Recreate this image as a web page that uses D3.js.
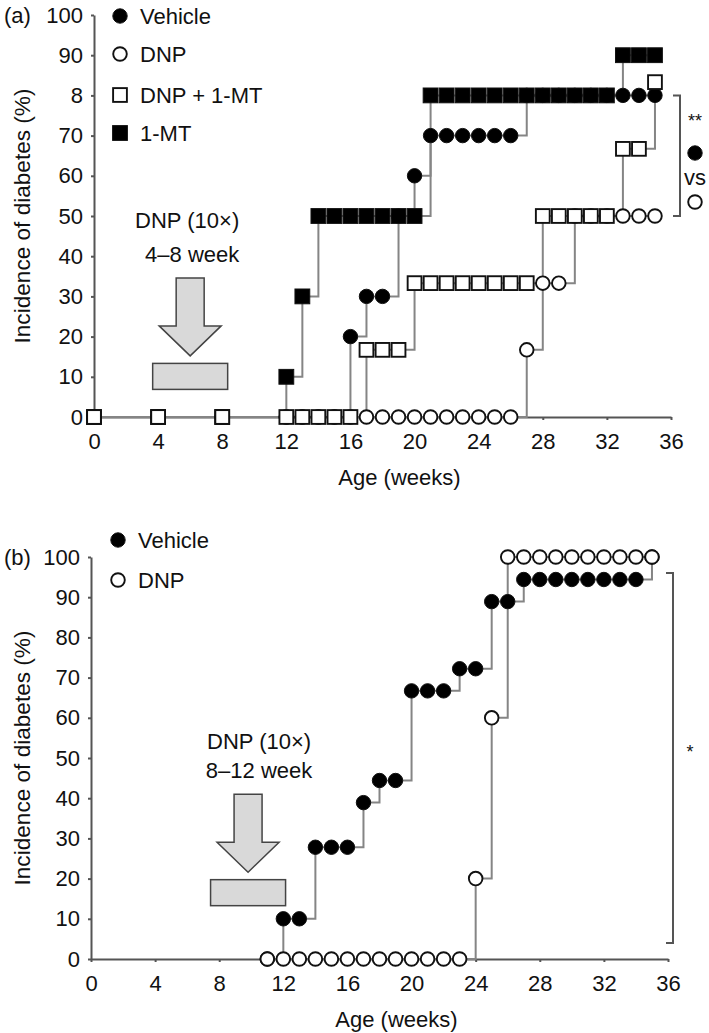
<!DOCTYPE html>
<html>
<head>
<meta charset="utf-8">
<script src="https://cdn.jsdelivr.net/npm/d3@7"></script>
<style>
  html, body { margin: 0; padding: 0; background: #fff; }
  svg { display: block; font-family: "Liberation Sans", Arial, sans-serif; }
</style>
</head>
<body>
<svg id="chart" width="709" height="1033"></svg>
<script>
// ---------------- DATA ----------------
// Panel (a)
const aVehicleWeeks = [0,4,8,12,13,14,15,16,17,18,19,20,21,22,23,24,25,26,27,28,29,30,31,32,33,34,35];
const aVehicleVals  = [0,0,0,0,0,0,0,20,30,30,50,60,70,70,70,70,70,70,80,80,80,80,80,80,80,80,80];
const aDnpWeeks     = [0,4,8,12,13,14,15,16,17,18,19,20,21,22,23,24,25,26,27,28,29,30,31,32,33,34,35];
const aDnpVals      = [0,0,0,0,0,0,0,0,0,0,0,0,0,0,0,0,0,0,16.7,33.3,33.3,50,50,50,50,50,50];
const aDnpMtWeeks   = [0,4,8,12,13,14,15,16,17,18,19,20,21,22,23,24,25,26,27,28,29,30,31,32,33,34,35];
const aDnpMtVals    = [0,0,0,0,0,0,0,0,16.7,16.7,16.7,33.3,33.3,33.3,33.3,33.3,33.3,33.3,33.3,50,50,50,50,50,66.7,66.7,83.3];
const aMtWeeks      = [0,4,8,12,13,14,15,16,17,18,19,20,21,22,23,24,25,26,27,28,29,30,31,32,33,34,35];
const aMtVals       = [0,0,0,10,30,50,50,50,50,50,50,50,80,80,80,80,80,80,80,80,80,80,80,80,90,90,90];
const aLegend       = ["Vehicle", "DNP", "DNP + 1-MT", "1-MT"];

// Panel (b)
const bVehicleWeeks = [11,12,13,14,15,16,17,18,19,20,21,22,23,24,25,26,27,28,29,30,31,32,33,34,35];
const bVehicleVals  = [0,10,10,27.8,27.8,27.8,38.9,44.4,44.4,66.7,66.7,66.7,72.2,72.2,88.9,88.9,94.4,94.4,94.4,94.4,94.4,94.4,94.4,94.4,100];
const bDnpWeeks     = [11,12,13,14,15,16,17,18,19,20,21,22,23,24,25,26,27,28,29,30,31,32,33,34,35];
const bDnpVals      = [0,0,0,0,0,0,0,0,0,0,0,0,0,20,60,100,100,100,100,100,100,100,100,100,100];
const bLegend       = ["Vehicle", "DNP"];

// Axes
const xTickValues  = [0,4,8,12,16,20,24,28,32,36];
const yTickValues  = [0,10,20,30,40,50,60,70,80,90,100];
const aYTickLabels = ["0","10","20","30","40","50","60","70","8","90","100"];
const bYTickLabels = ["0","10","20","30","40","50","60","70","80","90","100"];
const xTitle = "Age (weeks)";
const yTitle = "Incidence of diabetes (%)";

// ---------------- DRAWING ----------------
const svg = d3.select("#chart");
const FONT = 22;
const LINE_COLOR = "#858585";
const AXIS_COLOR = "#555";

function marker(g, type, cx, cy) {
  if (type === "filledCircle") {
    g.append("circle").attr("cx", cx).attr("cy", cy).attr("r", 7.2)
      .attr("fill", "#000").attr("stroke", "#111").attr("stroke-width", 1);
  } else if (type === "openCircle") {
    g.append("circle").attr("cx", cx).attr("cy", cy).attr("r", 6.8)
      .attr("fill", "#fff").attr("stroke", "#111").attr("stroke-width", 1.9);
  } else if (type === "openSquare") {
    g.append("rect").attr("x", cx - 6.9).attr("y", cy - 6.9).attr("width", 13.8).attr("height", 13.8)
      .attr("fill", "#fff").attr("stroke", "#111").attr("stroke-width", 1.9);
  } else if (type === "filledSquare") {
    g.append("rect").attr("x", cx - 7.4).attr("y", cy - 7.4).attr("width", 14.8).attr("height", 14.8)
      .attr("fill", "#000").attr("stroke", "#111").attr("stroke-width", 1);
  }
}

function drawPanel(cfg) {
  const x = d3.scaleLinear().domain([0, 36]).range([cfg.x0, cfg.x1]);
  const y = d3.scaleLinear().domain([0, 100]).range([cfg.yBot, cfg.yTop]);
  const g = svg.append("g");

  // Axes
  const xAxis = d3.axisBottom(x).tickValues(xTickValues).tickSize(3).tickPadding(13).tickSizeOuter(0);
  const gx = g.append("g").attr("transform", `translate(0,${cfg.yBot})`).call(xAxis);
  const yAxis = d3.axisLeft(y).tickValues(yTickValues).tickSize(3).tickPadding(8).tickSizeOuter(0)
    .tickFormat((d, i) => cfg.yLabels[i]);
  const gy = g.append("g").attr("transform", `translate(${cfg.x0},0)`).call(yAxis);
  [gx, gy].forEach(a => {
    a.select(".domain").attr("stroke", AXIS_COLOR).attr("stroke-width", 2);
    a.selectAll(".tick line").attr("stroke", AXIS_COLOR).attr("stroke-width", 2);
    a.selectAll(".tick text").attr("font-size", FONT).attr("fill", "#111")
      .attr("font-family", "Liberation Sans, Arial, sans-serif");
  });

  // Axis titles
  g.append("text").attr("x", (cfg.x0 + cfg.x1) / 2 + 17).attr("y", cfg.yBot + 68)
    .attr("text-anchor", "middle").attr("font-size", FONT).attr("fill", "#111").text(xTitle);
  g.append("text").attr("transform", `translate(30,${y(50)}) rotate(-90)`)
    .attr("text-anchor", "middle").attr("font-size", 22.6).attr("fill", "#111").text(yTitle);

  // panel letter
  g.append("text").attr("x", 4).attr("y", y(100) + 8).attr("font-size", FONT).attr("fill", "#111").text(cfg.letter);

  // Step lines
  const line = d3.line().x(d => x(d[0])).y(d => y(d[1])).curve(d3.curveStepAfter);
  cfg.series.forEach(s => {
    const pts = s.weeks.map((w, i) => [w, s.vals[i]]);
    g.append("path").attr("d", line(pts)).attr("fill", "none")
      .attr("stroke", LINE_COLOR).attr("stroke-width", 2);
  });
  // Markers (draw in given order)
  cfg.series.forEach(s => {
    const mg = g.append("g");
    s.weeks.forEach((w, i) => marker(mg, s.type, x(w), y(s.vals[i])));
  });

  // Legend
  cfg.legend.forEach((name, i) => {
    const ly = cfg.legendY[i];
    marker(g, cfg.legendTypes[i], cfg.legendX, ly);
    g.append("text").attr("x", cfg.legendX + 20).attr("y", ly + 8).attr("font-size", FONT).attr("fill", "#111").text(name);
  });

  // DNP treatment annotation: arrow + bar
  const tx = x(cfg.arrowWeek), ty = y(cfg.arrowTip);
  const arrow = [[tx - 14, ty - 78], [tx + 14, ty - 78], [tx + 14, ty - 30], [tx + 31, ty - 30],
                 [tx, ty], [tx - 31, ty - 30], [tx - 14, ty - 30]];
  g.append("path").attr("d", d3.line()(arrow) + "Z").attr("fill", "#d9d9d9")
    .attr("stroke", "#444").attr("stroke-width", 1.5).attr("stroke-linejoin", "miter");
  g.append("rect").attr("x", tx - 37.5).attr("y", ty + 7.5).attr("width", 75).attr("height", 26)
    .attr("fill", "#d9d9d9").attr("stroke", "#444").attr("stroke-width", 1.5);
  g.append("text").attr("x", tx + cfg.t1dx).attr("y", ty + cfg.t1dy).attr("text-anchor", "middle")
    .attr("font-size", FONT).attr("fill", "#111").text("DNP (10×)");
  g.append("text").attr("x", tx + cfg.t2dx).attr("y", ty + cfg.t2dy).attr("text-anchor", "middle")
    .attr("font-size", FONT).attr("fill", "#111").text(cfg.period);

  // Significance bracket
  const bx = cfg.bracketX, bt = y(cfg.bracketTop), bb = y(cfg.bracketBot);
  g.append("path").attr("d", `M${bx - 7},${bt} H${bx} V${bb} H${bx - 7}`)
    .attr("fill", "none").attr("stroke", "#555").attr("stroke-width", 2);
  return { x, y, g };
}

// Panel (a)
const pa = drawPanel({
  x0: 94, x1: 671, yTop: 15, yBot: 417, letter: "(a)",
  yLabels: aYTickLabels,
  series: [
    { weeks: aVehicleWeeks, vals: aVehicleVals, type: "filledCircle" },
    { weeks: aDnpWeeks, vals: aDnpVals, type: "openCircle" },
    { weeks: aMtWeeks, vals: aMtVals, type: "filledSquare" },
    { weeks: aDnpMtWeeks, vals: aDnpMtVals, type: "openSquare" }
  ],
  legend: aLegend, legendTypes: ["filledCircle", "openCircle", "openSquare", "filledSquare"],
  legendX: 120, legendY: [16, 54, 95, 133],
  arrowWeek: 6, arrowTip: 15.2, t1dx: -3, t1dy: -128, t2dx: 2, t2dy: -94, period: "4–8 week",
  bracketX: 680, bracketTop: 80, bracketBot: 50
});
pa.g.append("text").attr("x", 695).attr("y", 127).attr("text-anchor", "middle").attr("font-size", 18).attr("fill", "#111").text("**");
marker(pa.g, "filledCircle", 695, 153);
pa.g.append("text").attr("x", 695).attr("y", 185).attr("text-anchor", "middle").attr("font-size", FONT).attr("fill", "#111").text("vs");
marker(pa.g, "openCircle", 695, 202);

// Panel (b)
const pb = drawPanel({
  x0: 91, x1: 668, yTop: 557, yBot: 959, letter: "(b)",
  yLabels: bYTickLabels,
  series: [
    { weeks: bVehicleWeeks, vals: bVehicleVals, type: "filledCircle" },
    { weeks: bDnpWeeks, vals: bDnpVals, type: "openCircle" }
  ],
  legend: bLegend, legendTypes: ["filledCircle", "openCircle"],
  legendX: 118, legendY: [540, 580],
  arrowWeek: 9.8, arrowTip: 21.6, t1dx: 11, t1dy: -123, t2dx: 11, t2dy: -94, period: "8–12 week",
  bracketX: 673, bracketTop: 96, bracketBot: 4
});
pb.g.append("text").attr("x", 690).attr("y", 758).attr("text-anchor", "middle").attr("font-size", 18).attr("fill", "#111").text("*");
</script>
</body>
</html>
